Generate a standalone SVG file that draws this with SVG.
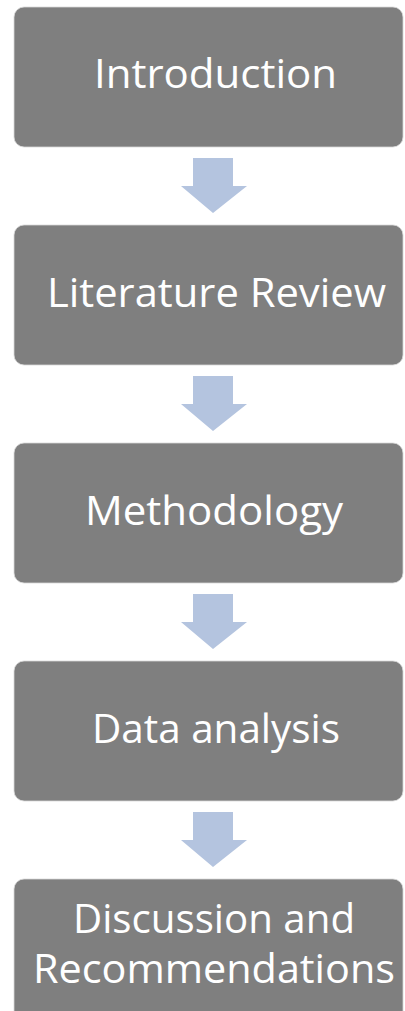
<svg xmlns="http://www.w3.org/2000/svg" width="405" height="1011" viewBox="0 0 405 1011">
<defs>
<style>
.box{fill:#7f7f7f;stroke:#d8d8d8;stroke-width:0.8}
.lbl{fill:#ffffff;font-family:"Open Sans","Noto Sans",sans-serif;font-size:40px}
.arr{fill:#b4c4df}
</style>
<path id="arrow" class="arr" d="M193 0 H233 V28 H247 L213 55 L181 28 H193 Z"/>
</defs>
<rect width="405" height="1011" fill="#ffffff"/>
<g id="connectors">
<use href="#arrow" y="158"/>
<use href="#arrow" y="376"/>
<use href="#arrow" y="594"/>
<use href="#arrow" y="812"/>
</g>
<g id="node-introduction">
<rect class="box" x="14" y="7" width="389" height="140" rx="10"/>
<text class="lbl" x="94" y="88" textLength="243" lengthAdjust="spacingAndGlyphs">Introduction</text>
</g>
<g id="node-literature">
<rect class="box" x="14" y="225" width="389" height="140" rx="10"/>
<text class="lbl" x="47" y="307" textLength="339" lengthAdjust="spacingAndGlyphs">Literature Review</text>
</g>
<g id="node-methodology">
<rect class="box" x="14" y="443" width="389" height="140" rx="10"/>
<text class="lbl" x="85" y="525" textLength="258" lengthAdjust="spacingAndGlyphs">Methodology</text>
</g>
<g id="node-data">
<rect class="box" x="14" y="661" width="389" height="140" rx="10"/>
<text class="lbl" x="92" y="743" textLength="248" lengthAdjust="spacingAndGlyphs">Data analysis</text>
</g>
<g id="node-discussion">
<rect class="box" x="14" y="879" width="389" height="150" rx="10"/>
<text class="lbl" x="73" y="933" textLength="282" lengthAdjust="spacingAndGlyphs">Discussion and</text>
<text class="lbl" x="33" y="983" textLength="362" lengthAdjust="spacingAndGlyphs">Recommendations</text>
</g>
</svg>
